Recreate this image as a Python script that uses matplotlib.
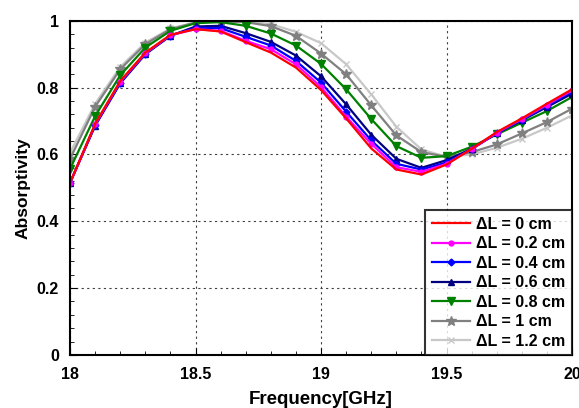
import numpy as np
import matplotlib.pyplot as plt
from matplotlib.ticker import MultipleLocator

plt.rcParams['font.family'] = ['Liberation Sans', 'DejaVu Sans']
plt.rcParams['font.weight'] = 'bold'

freq = [18.0, 18.1, 18.2, 18.3, 18.4, 18.5, 18.6, 18.7, 18.8, 18.9, 19.0,
        19.1, 19.2, 19.3, 19.4, 19.5, 19.6, 19.7, 19.8, 19.9, 20.0]

dl_0 = [0.515, 0.692, 0.82, 0.905, 0.958, 0.975, 0.968, 0.936, 0.905, 0.86, 0.793,
        0.708, 0.618, 0.555, 0.54, 0.57, 0.617, 0.667, 0.708, 0.752, 0.795]
dl_02 = [0.515, 0.69, 0.818, 0.903, 0.957, 0.975, 0.97, 0.94, 0.915, 0.87, 0.802,
         0.713, 0.632, 0.562, 0.548, 0.572, 0.616, 0.665, 0.706, 0.749, 0.792]
dl_04 = [0.515, 0.688, 0.815, 0.902, 0.956, 0.979, 0.978, 0.952, 0.926, 0.88, 0.815,
         0.728, 0.642, 0.572, 0.555, 0.576, 0.616, 0.664, 0.704, 0.746, 0.788]
dl_06 = [0.515, 0.686, 0.813, 0.9, 0.955, 0.983, 0.985, 0.963, 0.937, 0.896, 0.834,
         0.75, 0.659, 0.587, 0.56, 0.583, 0.617, 0.663, 0.702, 0.742, 0.782]
dl_08 = [0.557, 0.715, 0.837, 0.92, 0.97, 0.993, 0.996, 0.985, 0.962, 0.926, 0.871,
         0.795, 0.706, 0.625, 0.59, 0.595, 0.623, 0.66, 0.695, 0.73, 0.772]
dl_1 = [0.587, 0.743, 0.855, 0.93, 0.975, 0.995, 0.998, 0.996, 0.984, 0.955, 0.902,
        0.84, 0.747, 0.657, 0.607, 0.593, 0.607, 0.63, 0.663, 0.697, 0.737]
dl_12 = [0.605, 0.752, 0.862, 0.935, 0.977, 0.995, 0.999, 0.998, 0.99, 0.967, 0.933,
         0.87, 0.78, 0.683, 0.615, 0.593, 0.6, 0.62, 0.647, 0.68, 0.717]

labels = ['ΔL = 0 cm', 'ΔL = 0.2 cm', 'ΔL = 0.4 cm', 'ΔL = 0.6 cm',
          'ΔL = 0.8 cm', 'ΔL = 1 cm', 'ΔL = 1.2 cm']
series = [dl_0, dl_02, dl_04, dl_06, dl_08, dl_1, dl_12]
colors = ['#ff0000', '#ff00ff', '#0000ff', '#000080', '#008000', '#808080', '#c8c8c8']
markers = [None, 'o', 'D', '^', 'v', '*', 'x']
msizes = [0, 3.5, 3.5, 5, 6, 7, 4]

fig = plt.figure(figsize=(5.79, 4.08), dpi=100)
ax = fig.add_axes([0.121, 0.130, 0.867, 0.819])

# draw from back (light gray) to front (red)
for y, lab, c, m, ms in reversed(list(zip(series, labels, colors, markers, msizes))):
    ax.plot(freq, y, color=c, lw=1.6, marker=m, ms=ms, mew=1.0, label=lab)

ax.set_xlim(18, 20)
ax.set_ylim(0, 1)
ax.xaxis.set_minor_locator(MultipleLocator(0.1))
ax.yaxis.set_minor_locator(MultipleLocator(0.04))
ax.set_xticks([18, 18.5, 19, 19.5, 20])
ax.set_xticklabels(['18', '18.5', '19', '19.5', '20'])
ax.set_yticks([0, 0.2, 0.4, 0.6, 0.8, 1])
ax.set_yticklabels(['0', '0.2', '0.4', '0.6', '0.8', '1'])
ax.tick_params(which='both', direction='in', top=False, right=False, labelsize=11.5)
ax.tick_params(axis='x', which='major', length=5, pad=9)
ax.tick_params(axis='y', which='major', length=5, pad=8)
ax.tick_params(which='minor', length=3)
ax.grid(True, which='major', color='#404040', linestyle=(0, (2, 3)), lw=0.8)
for s in ax.spines.values():
    s.set_linewidth(1.5)

ax.set_xlabel('Frequency[GHz]', fontsize=13.5, fontweight='bold', labelpad=6)
ax.set_ylabel('Absorptivity', fontsize=12.5, fontweight='bold', labelpad=4)

h, l = ax.get_legend_handles_labels()
leg = ax.legend(h[::-1], l[::-1], loc='lower right', fontsize=11.5, frameon=True,
                fancybox=False, edgecolor='black', borderpad=0.4, labelspacing=0.28,
                handlelength=2.4, handletextpad=0.4, borderaxespad=0.0)
leg.get_frame().set_linewidth(1.5)

fig.savefig('out.png', dpi=100)
